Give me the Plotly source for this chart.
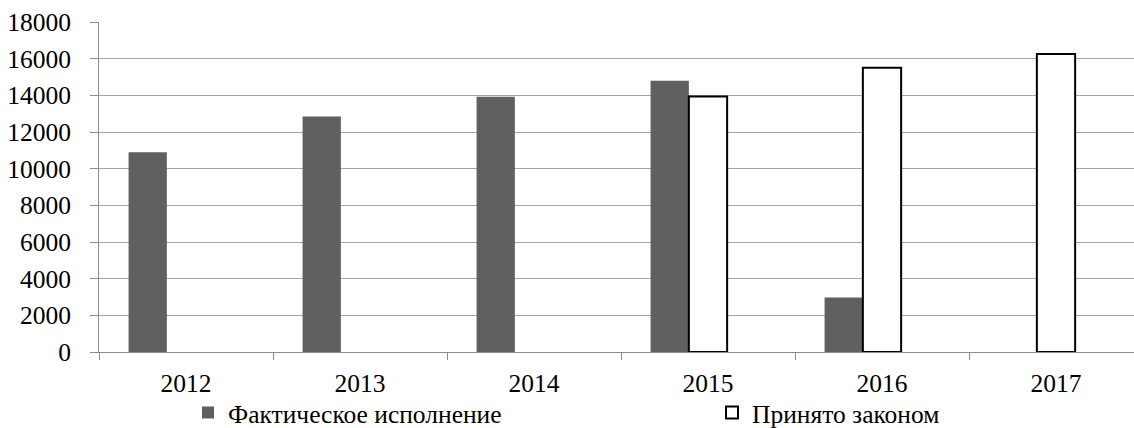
import plotly.graph_objects as go

years = ["2012", "2013", "2014", "2015", "2016", "2017"]
actual = [10900, 12850, 13920, 14800, 2970, None]
law = [None, None, None, 13930, 15500, 16250]
hidden = [None, None, None, None, None, None]

FONT = "Liberation Serif"
FS = 25.5

fig = go.Figure()
fig.add_trace(go.Bar(x=years, y=actual, name="Фактическое исполнение", legend="legend",
                     marker=dict(color="#606060", line=dict(width=0))))
fig.add_trace(go.Bar(x=years, y=law, name="Принято законом", legend="legend2",
                     marker=dict(color="#ffffff", line=dict(color="#000000", width=2))))
fig.add_trace(go.Bar(x=years, y=hidden, name="", showlegend=False,
                     marker=dict(color="rgba(0,0,0,0)")))

leg_common = dict(orientation="h", xref="container", yref="container",
                  xanchor="left", y=(428 - 413) / 428, yanchor="middle",
                  font=dict(family=FONT, size=FS, color="black"), itemwidth=30,
                  bgcolor="rgba(0,0,0,0)", borderwidth=0)

fig.update_layout(
    width=1134, height=428,
    margin=dict(l=99, r=0, t=22, b=76, autoexpand=False),
    paper_bgcolor="white", plot_bgcolor="white",
    barmode="group", bargap=0.34, bargroupgap=0,
    font=dict(family=FONT, size=FS, color="black"),
    legend=dict(x=188 / 1134, **leg_common),
    legend2=dict(x=712 / 1134, **leg_common),
    showlegend=True,
)
fig.update_xaxes(type="category", range=[-0.5, -0.5 + 1035 / 174],
                 showline=True, linecolor="#8c8c8c", linewidth=1,
                 ticks="outside", ticklen=7, tickcolor="#8c8c8c", tickson="boundaries",
                 showgrid=False, ticklabelstandoff=8,
                 tickfont=dict(family=FONT, size=FS, color="black"))
fig.update_yaxes(range=[0, 18000], dtick=2000, tick0=0, tickformat="d",
                 showline=True, linecolor="#8c8c8c", linewidth=1,
                 ticks="outside", ticklen=8, tickcolor="#8c8c8c",
                 showgrid=True, gridcolor="#a6a6a6", gridwidth=1,
                 zeroline=False, ticklabelstandoff=14,
                 tickfont=dict(family=FONT, size=FS, color="black"))

fig.write_html("out.html")
